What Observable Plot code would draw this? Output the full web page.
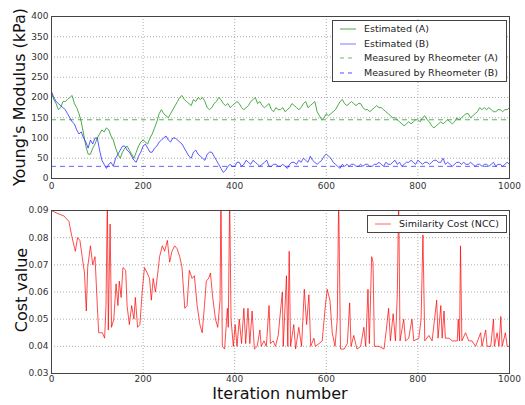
<!DOCTYPE html>
<html>
<head>
<meta charset="utf-8">
<script src="https://cdn.jsdelivr.net/npm/d3@7"></script>
<script src="https://cdn.jsdelivr.net/npm/@observablehq/plot@0.6"></script>
<style>
  body { margin: 0; background: #fff; font-family: "DejaVu Sans", sans-serif; }
  #wrap { position: relative; width: 525px; height: 405px; overflow: hidden; }
  #wrap > div, #wrap > svg { position: absolute; }
  .leg { position: absolute; background: #fff; border: 1px solid #444; box-sizing: border-box; font-size: 9.5px; color: #222; }
  .row { position: absolute; left: 0; height: 14px; line-height: 14px; white-space: nowrap; }
  .row svg { position: absolute; top: 0; }
  .row span { position: absolute; }
  .lab { position: absolute; font-size: 16px; line-height: 1; color: #111; white-space: nowrap; }
</style>
</head>
<body>
<div id="wrap"></div>
<script>
// ---- data (Young's modulus every 5 iterations) ----
const estimatedA = [
  210,195,185,170,175,190,190,195,200,205,
  185,175,160,140,110,80,60,60,75,85,
  100,110,120,115,125,120,105,95,75,60,
  50,65,75,80,70,60,50,65,80,90,
  95,90,85,100,110,125,140,160,170,160,
  155,150,160,170,180,190,200,205,195,190,
  185,180,195,190,200,195,200,190,175,170,
  175,185,190,200,195,185,180,185,175,180,
  185,190,185,175,170,175,180,190,195,200,
  185,190,180,175,180,185,170,165,175,170,
  170,175,165,170,175,185,180,175,170,175,
  185,190,175,180,185,190,165,155,145,150,
  160,155,160,165,170,180,190,195,185,180,
  185,190,185,180,185,185,175,170,170,165,
  170,175,180,175,175,170,165,160,155,150,
  150,145,140,135,130,135,140,135,140,145,
  145,140,150,155,145,140,130,125,130,135,
  140,135,140,145,140,135,140,150,145,150,
  155,160,160,150,155,160,165,175,170,175,
  170,175,170,165,165,170,170,165,170,170,
  175];
const estimatedB = [
  215,200,190,185,180,175,170,160,150,140,
  135,120,110,115,100,90,75,95,85,100,
  100,70,45,35,25,35,40,30,50,60,
  70,80,80,70,65,55,45,40,55,65,
  80,85,75,65,65,75,80,90,95,100,
  105,95,90,100,100,95,90,85,75,65,
  55,50,65,70,60,55,50,45,60,65,
  65,55,45,35,25,15,20,30,35,30,
  30,40,40,30,35,45,40,35,45,40,
  35,30,35,40,45,30,30,35,35,30,
  30,35,30,25,35,40,40,35,45,40,
  50,45,40,55,45,40,35,40,45,55,
  60,55,50,40,35,30,25,35,30,35,
  30,35,35,30,30,35,30,35,35,30,
  30,35,35,40,35,30,40,35,35,40,
  45,35,40,30,35,40,40,45,40,35,
  45,40,35,40,40,35,40,45,45,40,
  40,50,35,40,35,30,35,40,40,35,
  40,35,35,40,35,30,35,35,30,35,
  35,30,35,40,30,35,35,30,35,40,
  35];
const iterStep = estimatedA.map((_, i) => i * 5);
const rheometerA = 145;
const rheometerB = 30;

// ---- data (similarity cost) ----
const costIter = [0,12,27,38,45,52,57,62,67,72,76,79,85,90,95,100,103,111,116,119,122,124,128,131,136,141,145,148,152,156,162,165,170,175,180,183,188,193,198,203,209,214,218,222,227,232,236,242,247,253,258,263,269,274,280,285,291,296,301,307,312,318,324,329,334,338,343,347,352,358,363,368,370,373,378,384,386,389,392,397,401,405,410,415,420,424,429,433,438,443,449,455,458,464,469,475,478,484,489,495,504,506,513,516,519,522,529,533,540,546,552,557,562,566,573,576,584,591,598,602,608,613,619,624,627,631,639,646,651,654,660,667,675,682,686,691,694,699,702,705,715,726,731,736,740,746,751,755,758,761,769,773,780,787,791,802,807,811,815,824,831,841,844,850,853,857,860,868,875,886,888,891,893,896,904,911,918,926,937,940,948,951,959,965,967,973,977,981,984,991,995,1000];
const costValue = [0.090,0.089,0.088,0.086,0.080,0.075,0.080,0.079,0.073,0.067,0.053,0.069,0.077,0.070,0.073,0.055,0.045,0.045,0.043,0.055,0.095,0.046,0.085,0.047,0.050,0.063,0.055,0.064,0.058,0.069,0.068,0.055,0.048,0.055,0.050,0.058,0.047,0.048,0.060,0.069,0.067,0.065,0.057,0.065,0.060,0.067,0.073,0.077,0.075,0.079,0.071,0.075,0.077,0.076,0.073,0.069,0.054,0.055,0.068,0.065,0.066,0.055,0.048,0.045,0.055,0.064,0.065,0.067,0.058,0.050,0.047,0.057,0.095,0.040,0.039,0.054,0.047,0.095,0.050,0.040,0.048,0.040,0.050,0.041,0.054,0.041,0.054,0.041,0.053,0.039,0.040,0.046,0.040,0.042,0.040,0.055,0.041,0.042,0.040,0.044,0.060,0.040,0.066,0.040,0.075,0.040,0.048,0.039,0.047,0.040,0.061,0.048,0.059,0.040,0.043,0.040,0.041,0.042,0.055,0.061,0.057,0.045,0.040,0.050,0.095,0.039,0.039,0.041,0.056,0.040,0.044,0.039,0.040,0.047,0.040,0.061,0.041,0.073,0.071,0.040,0.040,0.039,0.046,0.054,0.042,0.052,0.042,0.059,0.095,0.042,0.050,0.042,0.043,0.050,0.042,0.043,0.050,0.081,0.042,0.044,0.042,0.057,0.043,0.055,0.043,0.053,0.043,0.043,0.042,0.042,0.050,0.042,0.077,0.042,0.045,0.042,0.042,0.040,0.045,0.040,0.046,0.040,0.040,0.050,0.040,0.045,0.040,0.051,0.040,0.045,0.040,0.040];

const xTicks = [0,200,400,600,800,1000];
const modTicks = [0,50,100,150,200,250,300,350,400];
const costTicks = [0.03,0.04,0.05,0.06,0.07,0.08,0.09];

// ---- build ----
const green = "#2e9a2e", blue = "#2222ff", red = "#ff0000";
const tickStyle = { fontFamily: "DejaVu Sans, sans-serif", fontSize: "9px", color: "#333", background: "transparent", overflow: "visible" };
const seriesA = iterStep.map((x, i) => ({x, y: estimatedA[i]}));
const seriesB = iterStep.map((x, i) => ({x, y: estimatedB[i]}));
const cost = costIter.map((x, i) => ({x, y: costValue[i]}));

const gridOpts = { stroke: "#999", strokeOpacity: 0.8, strokeDasharray: "1,2" };

const topChart = Plot.plot({
  width: 525, height: 200,
  marginLeft: 51, marginRight: 16, marginTop: 16, marginBottom: 22,
  style: tickStyle,
  x: { domain: [0, 1000] },
  y: { domain: [0, 400] },
  marks: [
    Plot.gridX(xTicks, gridOpts),
    Plot.gridY(modTicks, gridOpts),
    Plot.ruleY([rheometerA], { stroke: green, strokeOpacity: 0.8, strokeDasharray: "5,4" }),
    Plot.ruleY([rheometerB], { stroke: blue, strokeOpacity: 0.7, strokeDasharray: "5,4" }),
    Plot.line(seriesA, { x: "x", y: "y", stroke: green, strokeOpacity: 0.85, strokeWidth: 1 }),
    Plot.line(seriesB, { x: "x", y: "y", stroke: blue, strokeOpacity: 0.75, strokeWidth: 1 }),
    Plot.axisX(xTicks, { tickSize: 0, tickPadding: 4, label: null, tickFormat: d3.format("d") }),
    Plot.axisY(modTicks, { tickSize: 0, tickPadding: 3, label: null }),
    Plot.frame({ stroke: "#444" })
  ]
});

const bottomChart = Plot.plot({
  width: 525, height: 210,
  marginLeft: 51, marginRight: 16, marginTop: 15, marginBottom: 32,
  style: tickStyle,
  x: { domain: [0, 1000] },
  y: { domain: [0.03, 0.09] },
  clip: true,
  marks: [
    Plot.gridX(xTicks, gridOpts),
    Plot.gridY(costTicks, gridOpts),
    Plot.line(cost, { x: "x", y: "y", stroke: red, strokeOpacity: 0.7, strokeWidth: 1 }),
    Plot.axisX(xTicks, { tickSize: 0, tickPadding: 2, label: null, tickFormat: d3.format("d") }),
    Plot.axisY(costTicks, { tickSize: 0, tickPadding: 3, label: null, tickFormat: d3.format(".2f") }),
    Plot.frame({ stroke: "#444" })
  ]
});

const wrap = document.getElementById("wrap");
topChart.style.left = "0px"; topChart.style.top = "0px";
bottomChart.style.left = "0px"; bottomChart.style.top = "195px";
wrap.appendChild(topChart);
wrap.appendChild(bottomChart);

function legend(left, topPx, width, height, entries) {
  const box = document.createElement("div");
  box.className = "leg";
  Object.assign(box.style, { left: left + "px", top: topPx + "px", width: width + "px", height: height + "px" });
  entries.forEach((e) => {
    const row = document.createElement("div");
    row.className = "row";
    row.style.top = (e.top) + "px";
    row.style.width = width + "px";
    row.innerHTML = `<svg width="20" height="14" style="left:6px"><line x1="1" x2="17" y1="7" y2="7" stroke="${e.color}" stroke-opacity="${e.op}" stroke-width="1" ${e.dash ? 'stroke-dasharray="4,4"' : ''}/></svg><span style="left:${e.tx}px">${e.label}</span>`;
    box.appendChild(row);
  });
  wrap.appendChild(box);
}
legend(332, 20, 175, 62, [
  { label: "Estimated (A)", color: green, op: 0.85, top: 1, tx: 31 },
  { label: "Estimated (B)", color: blue, op: 0.6, top: 15.5, tx: 31 },
  { label: "Measured by Rheometer (A)", color: green, op: 0.7, dash: true, top: 30, tx: 31 },
  { label: "Measured by Rheometer (B)", color: blue, op: 0.8, dash: true, top: 44.5, tx: 31 }
]);
legend(367, 215, 140, 18, [
  { label: "Similarity Cost (NCC)", color: red, op: 0.6, top: 1, tx: 31 }
]);

function label(text, x, y, rotate) {
  const d = document.createElement("div");
  d.className = "lab";
  d.textContent = text;
  Object.assign(d.style, { left: x + "px", top: y + "px", transform: `translate(-50%,-50%)${rotate ? " rotate(-90deg)" : ""}` });
  wrap.appendChild(d);
}
label("Young's Modulus (kPa)", 20, 97, true);
label("Cost value", 22, 290, true);
label("Iteration number", 280, 394, false);
</script>
</body>
</html>
